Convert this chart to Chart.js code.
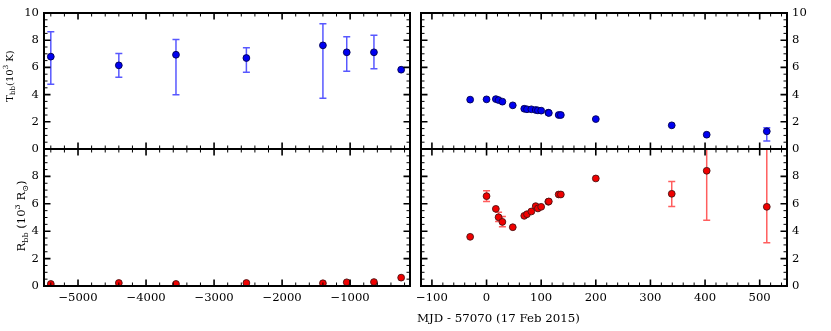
<!DOCTYPE html>
<html><head><meta charset="utf-8">
<script src="https://cdn.jsdelivr.net/npm/chart.js@4.4.0/dist/chart.umd.min.js"></script>
<style>
html,body{margin:0;padding:0;background:#fff;}
#wrap{position:relative;width:831px;height:331px;background:#fff;}
canvas{position:absolute;left:0;top:0;}
</style></head><body>
<div id="wrap">
<canvas id="cTL" width="831" height="331"></canvas>
<canvas id="cBL" width="831" height="331"></canvas>
<canvas id="cTR" width="831" height="331"></canvas>
<canvas id="cBR" width="831" height="331"></canvas>
</div>
<script>
// ---------------- data ----------------
const earlyX   = [-5400, -4400, -3560, -2525, -1400, -1050, -650, -250];
const earlyT   = [6.79, 6.15, 6.93, 6.69, 7.62, 7.11, 7.11, 5.83];
const earlyTLo = [4.76, 5.27, 3.99, 5.64, 3.73, 5.71, 5.90, 5.83];
const earlyTHi = [8.63, 7.03, 8.06, 7.45, 9.21, 8.26, 8.36, 5.83];
const earlyR   = [0.15, 0.22, 0.15, 0.22, 0.20, 0.27, 0.29, 0.61];
const earlyRLo = [0.15, 0.22, 0.15, 0.22, 0.20, 0.27, 0.29, 0.61];
const earlyRHi = [0.15, 0.22, 0.15, 0.22, 0.20, 0.27, 0.29, 0.61];

const lateX   = [-30, 0, 17, 22, 29, 48, 69, 74, 82, 90, 94, 100, 113, 114, 132, 136, 200, 339, 403, 513];
const lateT   = [3.63, 3.65, 3.67, 3.60, 3.48, 3.21, 2.96, 2.92, 2.92, 2.87, 2.84, 2.82, 2.67, 2.65, 2.50, 2.50, 2.20, 1.74, 1.05, 1.30];
const lateTLo = [3.63, 3.65, 3.67, 3.60, 3.48, 3.21, 2.96, 2.92, 2.92, 2.87, 2.84, 2.82, 2.67, 2.65, 2.50, 2.50, 2.20, 1.74, 1.05, 0.59];
const lateTHi = [3.63, 3.65, 3.67, 3.60, 3.48, 3.21, 2.96, 2.92, 2.92, 2.87, 2.84, 2.82, 2.67, 2.65, 2.50, 2.50, 2.20, 1.74, 1.05, 1.57];
const lateR   = [3.59, 6.56, 5.63, 5.02, 4.68, 4.29, 5.12, 5.24, 5.44, 5.83, 5.66, 5.78, 6.15, 6.17, 6.68, 6.68, 7.85, 6.73, 8.41, 5.78];
const lateRLo = [3.59, 6.17, 5.63, 4.71, 4.32, 4.29, 5.12, 5.24, 5.44, 5.83, 5.66, 5.78, 6.15, 6.17, 6.68, 6.68, 7.85, 5.80, 4.80, 3.15];
const lateRHi = [3.59, 6.96, 5.63, 5.39, 5.08, 4.29, 5.12, 5.24, 5.44, 5.83, 5.66, 5.78, 6.15, 6.17, 6.68, 6.68, 7.85, 7.63, 12.0, 12.0];

const earlyXTicks = [-5000, -4000, -3000, -2000, -1000];
const lateXTicks  = [-100, 0, 100, 200, 300, 400, 500];
const yTicks      = [0, 2, 4, 6, 8, 10];

const xTitle = 'MJD - 57070 (17 Feb 2015)';

// ---------------- styling ----------------
const W = 831, H = 331;
const FONT = '"DejaVu Serif", "Liberation Serif", serif';
const TICK_SIZE = 11.6;

function fmt(v) { return v < 0 ? '\u2212' + Math.abs(v) : String(v); }

function panelPlugin(p) {
  return {
    id: 'panel_' + p.id,
    beforeDatasetsDraw(chart) {
      const ctx = chart.ctx, a = chart.chartArea;
      const xs = chart.scales.x, ys = chart.scales.y;
      ctx.save();
      ctx.beginPath(); ctx.rect(a.left, a.top, a.right - a.left, a.bottom - a.top); ctx.clip();
      ctx.strokeStyle = p.errColor; ctx.lineWidth = 1.5;
      for (let i = 0; i < p.xs.length; i++) {
        if (p.lo[i] === p.hi[i]) continue;
        const x = xs.getPixelForValue(p.xs[i]);
        const y1 = ys.getPixelForValue(p.lo[i]), y2 = ys.getPixelForValue(p.hi[i]);
        ctx.beginPath(); ctx.moveTo(x, y1); ctx.lineTo(x, y2); ctx.stroke();
        ctx.beginPath();
        ctx.moveTo(x - 3.5, y1); ctx.lineTo(x + 3.5, y1);
        ctx.moveTo(x - 3.5, y2); ctx.lineTo(x + 3.5, y2);
        ctx.stroke();
      }
      ctx.restore();
    },
    afterDatasetsDraw(chart) {
      const ctx = chart.ctx, a = chart.chartArea;
      const xs = chart.scales.x, ys = chart.scales.y;
      ctx.save();
      ctx.strokeStyle = '#000';
      const drawX = (v, len, lw) => {
        const x = xs.getPixelForValue(v);
        ctx.lineWidth = lw; ctx.beginPath();
        ctx.moveTo(x, a.bottom); ctx.lineTo(x, a.bottom - len);
        ctx.moveTo(x, a.top); ctx.lineTo(x, a.top + len);
        ctx.stroke();
      };
      const drawY = (v, len, lw) => {
        const y = ys.getPixelForValue(v);
        ctx.lineWidth = lw; ctx.beginPath();
        ctx.moveTo(a.left, y); ctx.lineTo(a.left + len, y);
        ctx.moveTo(a.right, y); ctx.lineTo(a.right - len, y);
        ctx.stroke();
      };
      const xmin = xs.min, xmax = xs.max;
      for (let v = Math.ceil(xmin / p.xMinor) * p.xMinor; v <= xmax; v += p.xMinor) {
        if (p.xTicks.indexOf(v) >= 0) continue;
        drawX(v, 3.5, 1);
      }
      p.xTicks.forEach(v => drawX(v, 6.5, 1.6));
      for (let v = 0.5; v < 10; v += 0.5) {
        if (yTicks.indexOf(v) >= 0) continue;
        drawY(v, 3.5, 1);
      }
      yTicks.forEach(v => drawY(v, 6.5, 1.6));
      ctx.lineWidth = 2;
      ctx.strokeRect(a.left, a.top, a.right - a.left, a.bottom - a.top);
      ctx.restore();
      if (p.after) p.after(chart);
    }
  };
}

function drawRich(ctx, cx, cy, parts, base, rotate) {
  ctx.save();
  ctx.translate(cx, cy);
  if (rotate) ctx.rotate(-Math.PI / 2);
  let total = 0;
  parts.forEach(pt => {
    ctx.font = (base * (pt.s || 1)) + 'px ' + FONT;
    pt.w = ctx.measureText(pt.t).width;
    total += pt.w;
  });
  let x = -total / 2;
  ctx.fillStyle = '#000';
  ctx.textBaseline = 'alphabetic';
  ctx.textAlign = 'left';
  parts.forEach(pt => {
    ctx.font = (base * (pt.s || 1)) + 'px ' + FONT;
    ctx.fillText(pt.t, x, base * 0.36 + (pt.dy || 0) * base);
    x += pt.w;
  });
  ctx.restore();
}

function titles(chart) {
  const ctx = chart.ctx;
  drawRich(ctx, 9, 76, [
    {t: 'T'}, {t: 'bb', s: 0.7, dy: 0.22}, {t: '(10'}, {t: '3', s: 0.7, dy: -0.42}, {t: ' K)'}
  ], 10, true);
  drawRich(ctx, 21, 216, [
    {t: 'R'}, {t: 'bb', s: 0.7, dy: 0.22}, {t: ' (10'}, {t: '3', s: 0.7, dy: -0.42}, {t: ' R'}, {t: '\u2299', s: 0.7, dy: 0.22}, {t: ')'}
  ], 11.6, true);
  ctx.save();
  ctx.font = '11.8px ' + FONT;
  ctx.fillStyle = '#000';
  ctx.textBaseline = 'alphabetic';
  ctx.textAlign = 'left';
  ctx.fillText(xTitle, 417, 322);
  ctx.restore();
}

function makePanel(p) {
  const a = p.area;
  const leftSide = p.ySide === 'left';
  const cfg = {
    type: 'scatter',
    data: {
      datasets: [{
        data: p.xs.map((x, i) => ({x: x, y: p.ys[i]})),
        backgroundColor: p.fill,
        borderColor: p.edge,
        borderWidth: 0.9,
        pointRadius: 3.4,
        pointHoverRadius: 3.4
      }]
    },
    options: {
      responsive: false,
      animation: false,
      events: [],
      layout: {
        padding: {
          left: leftSide ? 0 : a.left,
          right: leftSide ? W - a.right : 0,
          top: a.top,
          bottom: 0
        }
      },
      plugins: { legend: {display: false}, tooltip: {enabled: false}, title: {display: false} },
      scales: {
        x: {
          type: 'linear', position: 'bottom',
          min: p.xMin, max: p.xMax,
          grid: {display: false, drawTicks: false},
          border: {display: false},
          afterBuildTicks: s => { s.ticks = p.xTicks.map(v => ({value: v})); },
          afterFit: s => { s.height = H - a.bottom; s.paddingLeft = 0; s.paddingRight = 0; s.paddingTop = 0; s.paddingBottom = 0; },
          ticks: {
            display: p.showX, autoSkip: false, maxRotation: 0, minRotation: 0, padding: 5,
            color: '#000', font: {family: FONT, size: TICK_SIZE},
            callback: v => fmt(v)
          }
        },
        y: {
          type: 'linear', position: p.ySide,
          min: 0, max: 10,
          grid: {display: false, drawTicks: false},
          border: {display: false},
          afterBuildTicks: s => { s.ticks = yTicks.map(v => ({value: v})); },
          afterFit: s => { s.width = leftSide ? a.left : W - a.right; s.paddingLeft = 0; s.paddingRight = 0; s.paddingTop = 0; s.paddingBottom = 0; },
          ticks: {
            autoSkip: false, padding: 5,
            color: '#000', font: {family: FONT, size: TICK_SIZE},
            callback: v => (p.hideTop && v === 10) ? '' : fmt(v)
          }
        }
      }
    },
    plugins: [panelPlugin(p)]
  };
  return new Chart(document.getElementById(p.id), cfg);
}

const BLUE_FILL = '#0000f0', BLUE_EDGE = '#000050', BLUE_ERR = '#5858ff';
const RED_FILL = '#f00000', RED_EDGE = '#4a1414', RED_ERR = '#ff5e5e';

makePanel({id: 'cTL', area: {left: 44, right: 410, top: 13, bottom: 149},
  xMin: -5500, xMax: -120, xTicks: earlyXTicks, xMinor: 200, showX: false, ySide: 'left', hideTop: false,
  xs: earlyX, ys: earlyT, lo: earlyTLo, hi: earlyTHi, fill: BLUE_FILL, edge: BLUE_EDGE, errColor: BLUE_ERR});
makePanel({id: 'cBL', area: {left: 44, right: 410, top: 149, bottom: 286},
  xMin: -5500, xMax: -120, xTicks: earlyXTicks, xMinor: 200, showX: true, ySide: 'left', hideTop: true,
  xs: earlyX, ys: earlyR, lo: earlyRLo, hi: earlyRHi, fill: RED_FILL, edge: RED_EDGE, errColor: RED_ERR});
makePanel({id: 'cTR', area: {left: 421, right: 787, top: 13, bottom: 149},
  xMin: -120, xMax: 550, xTicks: lateXTicks, xMinor: 20, showX: false, ySide: 'right', hideTop: false,
  xs: lateX, ys: lateT, lo: lateTLo, hi: lateTHi, fill: BLUE_FILL, edge: BLUE_EDGE, errColor: BLUE_ERR});
makePanel({id: 'cBR', area: {left: 421, right: 787, top: 149, bottom: 286},
  xMin: -120, xMax: 550, xTicks: lateXTicks, xMinor: 20, showX: true, ySide: 'right', hideTop: true,
  xs: lateX, ys: lateR, lo: lateRLo, hi: lateRHi, fill: RED_FILL, edge: RED_EDGE, errColor: RED_ERR,
  after: titles});
</script>
</body></html>
